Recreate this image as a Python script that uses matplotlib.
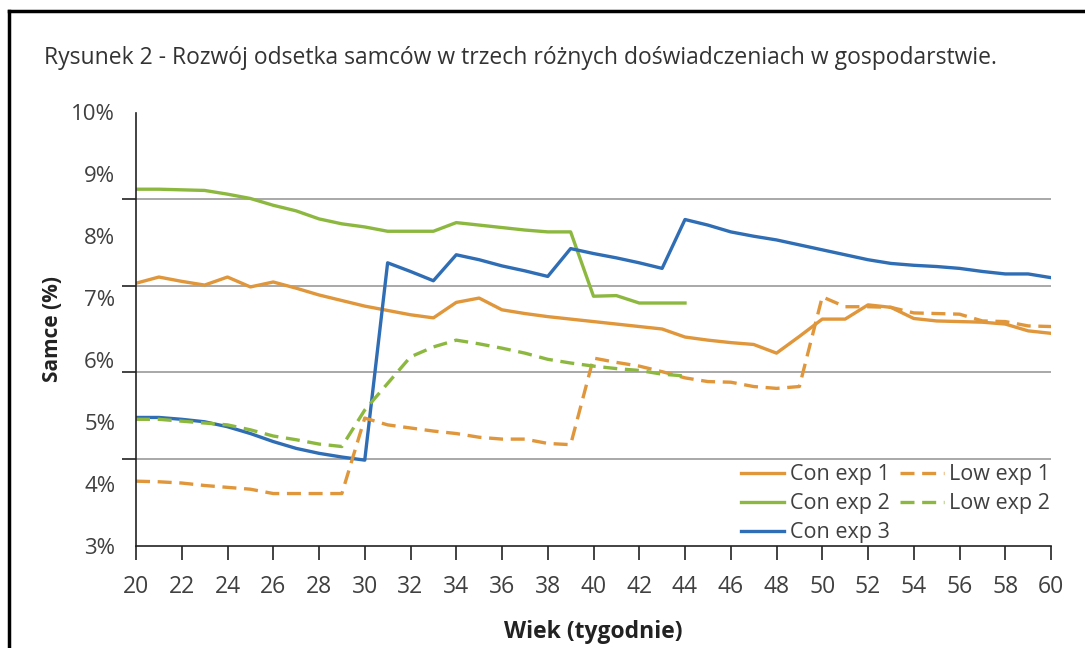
import matplotlib
matplotlib.use('Agg')
import matplotlib.pyplot as plt
import numpy as np

plt.rcParams['font.family'] = ['Open Sans', 'DejaVu Sans']

# Dane
weeks = list(range(20, 61))

con_exp1 = [7.24, 7.34, 7.27, 7.21, 7.34, 7.18, 7.26, 7.16, 7.05, 6.96,
            6.87, 6.80, 6.73, 6.68, 6.93, 7.00, 6.81, 6.75, 6.70, 6.66,
            6.62, 6.58, 6.54, 6.50, 6.37, 6.32, 6.28, 6.25, 6.11, 6.38,
            6.66, 6.66, 6.89, 6.85, 6.67, 6.63, 6.62, 6.61, 6.58, 6.47,
            6.43]
low_exp1 = [4.04, 4.03, 4.01, 3.97, 3.94, 3.91, 3.84, 3.84, 3.84, 3.84,
            5.06, 4.95, 4.90, 4.85, 4.81, 4.75, 4.72, 4.72, 4.65, 4.63,
            6.03, 5.96, 5.90, 5.81, 5.71, 5.65, 5.64, 5.57, 5.54, 5.57,
            7.02, 6.86, 6.86, 6.85, 6.76, 6.75, 6.74, 6.63, 6.62, 6.55,
            6.54]
con_exp2 = [8.76, 8.76, 8.75, 8.74, 8.68, 8.61, 8.50, 8.41, 8.28, 8.20,
            8.15, 8.08, 8.08, 8.08, 8.22, 8.18, 8.14, 8.10, 8.07, 8.07,
            7.03, 7.04, 6.92, 6.92, 6.92]
low_exp2 = [5.04, 5.04, 5.01, 4.98, 4.95, 4.87, 4.77, 4.71, 4.64, 4.60,
            5.19, 5.62, 6.05, 6.21, 6.32, 6.26, 6.19, 6.11, 6.01, 5.95,
            5.90, 5.86, 5.83, 5.77, 5.74]
con_exp3 = [5.07, 5.07, 5.04, 5.00, 4.92, 4.81, 4.68, 4.57, 4.49, 4.43,
            4.38, 7.57, 7.43, 7.28, 7.70, 7.62, 7.52, 7.44, 7.35, 7.80,
            7.72, 7.65, 7.57, 7.48, 8.27, 8.18, 8.07, 8.00, 7.94, 7.86,
            7.78, 7.70, 7.62, 7.56, 7.53, 7.51, 7.48, 7.43, 7.39, 7.39,
            7.33]

y_labels = ['3%', '4%', '5%', '6%', '7%', '8%', '9%', '10%']
x_ticks = list(range(20, 61, 2))

orange = '#E0963A'
green = '#8DB840'
blue = '#2F6DB5'
txt = '#404040'

fig = plt.figure(figsize=(10.85, 6.48), dpi=100)
ax = fig.add_axes([136 / 1085, 1 - 545.5 / 648, (1051 - 136) / 1085, (545.5 - 112.5) / 648])

lw = 2.4
dash = (0, (4.2, 2.3))
ax.plot(weeks, con_exp1, color=orange, lw=lw, label='Con exp 1')
ax.plot(weeks[:len(con_exp2)], con_exp2, color=green, lw=lw, label='Con exp 2')
ax.plot(weeks, con_exp3, color=blue, lw=lw, label='Con exp 3')
ax.plot(weeks, low_exp1, color=orange, lw=lw, ls=dash, label='Low exp 1')
ax.plot(weeks[:len(low_exp2)], low_exp2, color=green, lw=lw, ls=dash, label='Low exp 2')

ax.set_xlim(20, 60)
ax.set_ylim(3, 10)
ax.set_xticks(x_ticks)
ax.set_xticklabels([str(t) for t in x_ticks])
ax.set_yticks(range(3, 11))
ax.set_yticklabels(y_labels)
ax.set_yticks(np.linspace(3, 10, 6), minor=True)
ax.tick_params(axis='y', which='major', length=0, pad=15, labelsize=16, labelcolor=txt)
ax.tick_params(axis='y', which='minor', length=10, width=1.2, color='#222222', direction='out')
ax.tick_params(axis='x', length=10, width=1.2, color='#222222', pad=11, labelsize=16.5, labelcolor=txt)
ax.grid(axis='y', which='minor', color='#9a9a9a', lw=1.2)
ax.grid(axis='y', which='major', visible=False)
for s in ['top', 'right']:
    ax.spines[s].set_visible(False)
ax.spines['left'].set_color('#222222')
ax.spines['bottom'].set_color('#222222')
ax.spines['left'].set_linewidth(1.2)
ax.spines['bottom'].set_linewidth(1.2)
ax.set_axisbelow(True)

ax.set_xlabel('Wiek (tygodnie)', fontsize=16.5, fontweight='bold', color='#222222', labelpad=15)
ax.set_ylabel('Samce (%)', fontsize=15, fontweight='bold', color='#222222', labelpad=6)

ax.legend(loc='lower right', bbox_to_anchor=(1.02, -0.04), ncol=2, frameon=False,
          fontsize=15.5, handlelength=2.0, handletextpad=0.25, columnspacing=0.5,
          labelspacing=0.38, labelcolor=txt)

fig.text(44 / 1085, 1 - 58 / 648, 'Rysunek 2 - Rozwój odsetka samców w trzech różnych doświadczeniach w gospodarstwie.',
         fontsize=16.5, color='#333333', va='center', ha='left')

# ramka
fig.add_artist(plt.Line2D([9 / 1085, 9 / 1085], [0, 1 - 11 / 648], transform=fig.transFigure, color='black', lw=2.5))
fig.add_artist(plt.Line2D([9 / 1085, 1], [1 - 11 / 648, 1 - 11 / 648], transform=fig.transFigure, color='black', lw=2.5))

fig.savefig('out.png', dpi=100)
